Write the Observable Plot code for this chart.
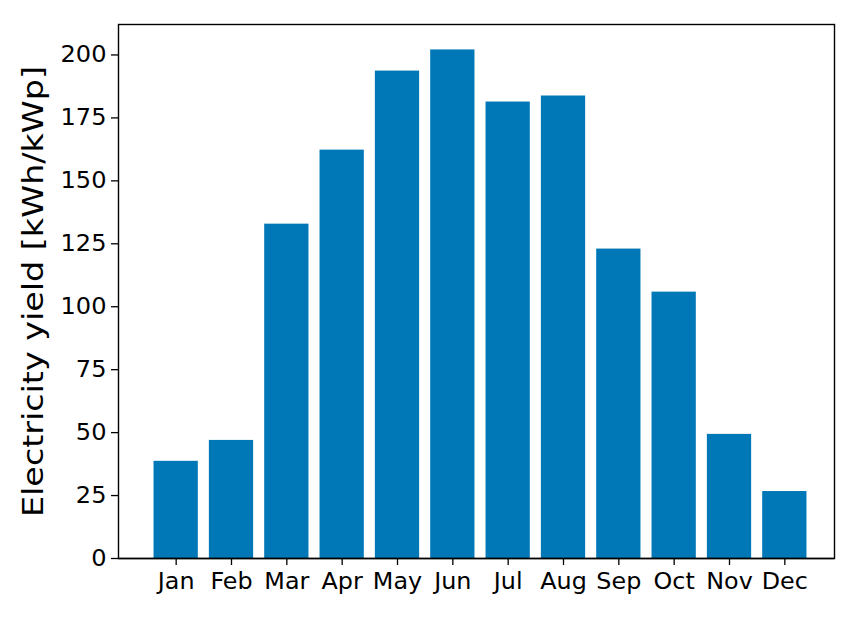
<!DOCTYPE html>
<html><head><meta charset="utf-8">
<script src="https://cdn.jsdelivr.net/npm/d3@7"></script>
<script src="https://cdn.jsdelivr.net/npm/@observablehq/plot@0.6"></script>
<style>body{margin:0;background:#fff;} svg{display:block;}</style>
</head><body><div id="chart"></div>
<script>
const months = ["Jan","Feb","Mar","Apr","May","Jun","Jul","Aug","Sep","Oct","Nov","Dec"];
const yieldValues = [38.6, 46.9, 132.8, 162.2, 193.6, 202.0, 181.3, 183.7, 122.9, 105.8, 49.3, 26.6];
const yTicks = [0, 25, 50, 75, 100, 125, 150, 175, 200];
const yLabel = "Electricity yield [kWh/kWp]";

const data = months.map((m, i) => ({month: m, value: yieldValues[i]}));
const font = "DejaVu Sans";

const chart = Plot.plot({
  width: 859, height: 619,
  marginLeft: 118, marginRight: 25, marginTop: 24, marginBottom: 61,
  style: {fontFamily: font, fontSize: "22.5px", color: "#000", background: "#fff"},
  x: {domain: months, range: [148, 812], paddingInner: 0.2, paddingOuter: 0.1, round: false, label: null},
  y: {domain: [0, 212.1], label: null},
  marks: [
    Plot.barY(data, {x: "month", y: "value", fill: "#0077B6"}),
    Plot.frame({stroke: "#000", strokeWidth: 1.4}),
    Plot.axisY({ticks: yTicks, tickSize: 7, tickPadding: 5, fontSize: 22.5, label: null, stroke: "#000", strokeWidth: 1.3}),
    Plot.axisX({tickSize: 7, tickPadding: 8, fontSize: 22.5, label: null, stroke: "#000", strokeWidth: 1.3}),
    Plot.ruleY([0], {stroke: "#000", strokeWidth: 1.5}),
    Plot.text([yLabel], {frameAnchor: "left", dx: -85, rotate: -90, fontSize: 29, text: d => d, textAnchor: "middle", fill: "#000"})
  ]
});
// match the reference glyph proportions (slightly wide tick labels, long axis label)
d3.select(chart).selectAll("g[aria-label='y-axis tick label'] text").each(function() {
  const t = this.getAttribute("transform") || "";
  this.setAttribute("transform", t + " scale(1.07,1)");
});
d3.select(chart).selectAll("g[aria-label='x-axis tick label'] text").each(function() {
  const t = this.getAttribute("transform") || "";
  this.setAttribute("transform", t + " scale(1.06,1)");
});
d3.select(chart).selectAll("g[aria-label='text'] text").each(function() {
  const t = this.getAttribute("transform") || "";
  this.setAttribute("transform", t + " scale(1.15,1)");
});
document.getElementById("chart").appendChild(chart);
</script></body></html>
